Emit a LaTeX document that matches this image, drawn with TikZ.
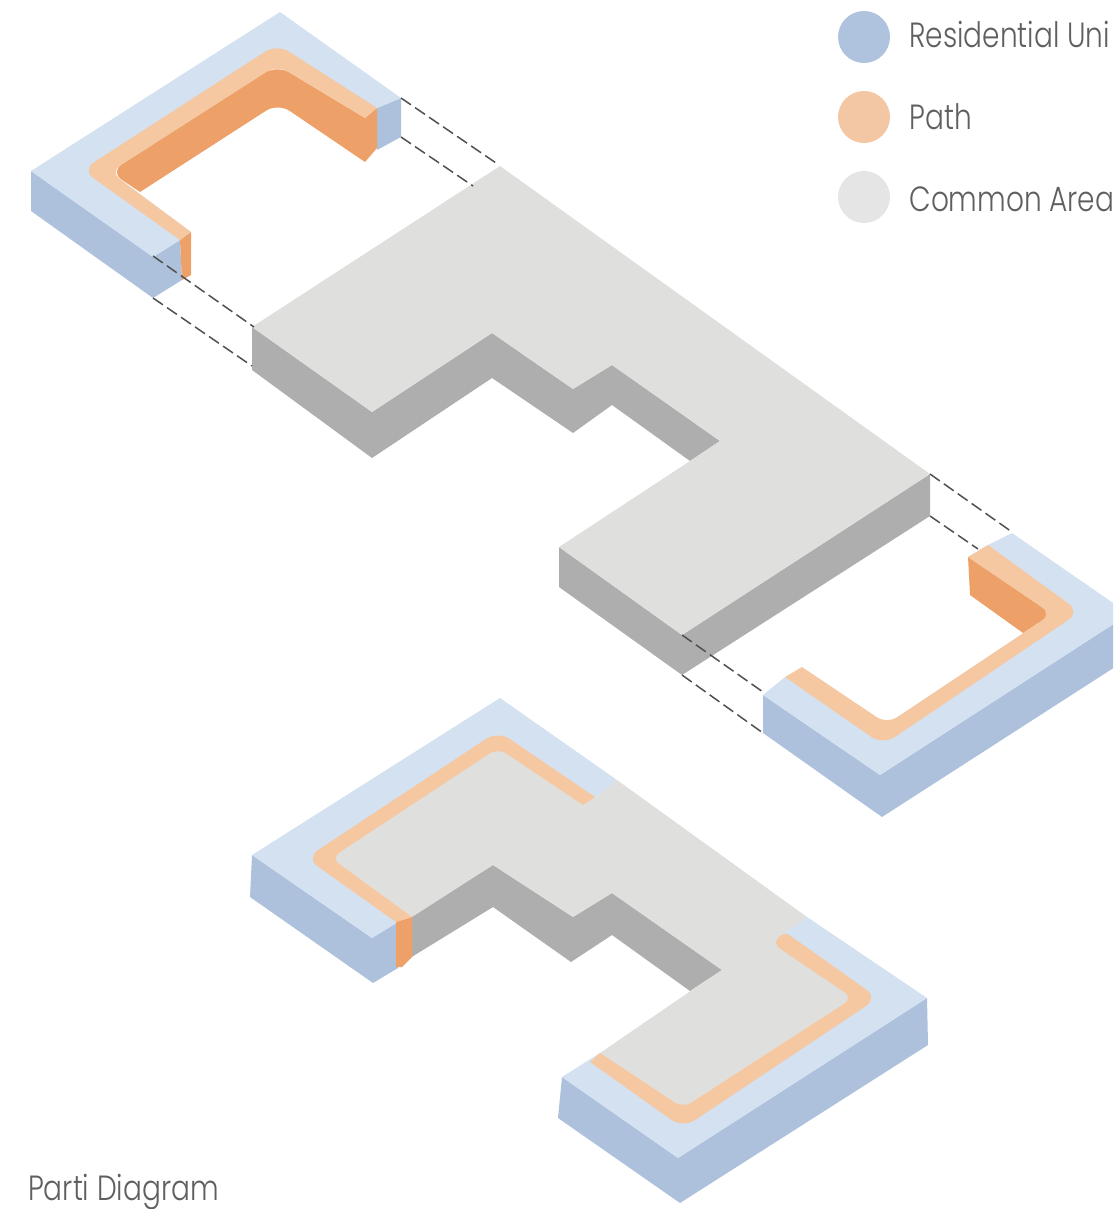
\documentclass[tikz,border=0pt]{standalone}
\usepackage{fontspec}
\setmainfont{Poppins}[UprightFont=* Light, FakeStretch=0.8]
\usetikzlibrary{positioning}

\begin{document}
\begin{tikzpicture}[
      x=1pt, y=-1pt,
      unittop/.style={fill={rgb,255:red,211;green,225;blue,241}},
      unitside/.style={fill={rgb,255:red,173;green,193;blue,221}},
      areatop/.style={fill={rgb,255:red,223;green,224;blue,222}},
      areaside/.style={fill={rgb,255:red,174;green,174;blue,174}},
      pathtop/.style={fill={rgb,255:red,246;green,200;blue,161}},
      pathwall/.style={fill={rgb,255:red,237;green,161;blue,104}},
      guide/.style={draw={rgb,255:red,80;green,80;blue,80}, line width=1.5pt, dash pattern=on 12pt off 5pt},
      legdot/.style={circle, minimum size=52pt, inner sep=0pt},
      leglab/.style={font=\fontsize{35}{38}\selectfont, text={rgb,255:red,95;green,95;blue,95}, inner sep=0pt, anchor=west}]
      \useasboundingbox (0,0) rectangle (1113,1209);
      \clip (0,0) rectangle (1113,1209);
      % legend
      \node[legdot, fill={rgb,255:red,176;green,195;blue,222}] (dotunit) at (864,37) {};
      \node[legdot, fill={rgb,255:red,244;green,199;blue,164}] (dotpath) at (864,117) {};
      \node[legdot, fill={rgb,255:red,229;green,229;blue,229}] (dotarea) at (864,197) {};
      \node[leglab, right=19pt of dotunit, yshift=3pt] (labunit) {Residential Uni};
      \node[leglab, right=19pt of dotpath] (labpath) {Path};
      \node[leglab, right=19pt of dotarea, yshift=-2pt] (labarea) {Common Area};
      \node[leglab, anchor=base west] (labparti) at (28,1200) {Parti Diagram};

      % upper left wing
      \fill[unitside] (31,171) -- (153,257) -- (153,298) -- (31,211) -- cycle;
      \fill[unitside] (153,257) -- (180,240) -- (182,280) -- (153,298) -- cycle;
      \fill[unitside] (377,108) -- (401,98) -- (401,137) -- (377,150) -- cycle;
      \fill[unittop] (280,12) -- (401,98) -- (377,108) -- (277,65) -- (110,172)
        -- (191,232) -- (180,240) -- (153,257) -- (31,171) -- cycle;
      \fill[pathwall] (365,118) [rounded corners=14pt] -- (277,65) -- (110,172) [sharp corners]
        -- (140,192) [rounded corners=14pt] -- (278,103) [sharp corners] -- (365,162)
        -- (377,148) -- (377,108) -- cycle;
      \fill[pathwall] (180,240) -- (191,232) -- (191,275) -- (182,280) -- cycle;
      \fill[pathtop] (377,108) [rounded corners=14pt] -- (277,44) -- (82,170) [sharp corners]
        -- (180,240) -- (191,232) [rounded corners=12pt] -- (110,172) -- (277,65) [sharp corners]
        -- (365,118) -- cycle;

      % middle block
      \fill[areaside] (252,327) -- (372,412) -- (492,333) -- (573,389) -- (612,365) -- (720,441)
        -- (690,461) -- (612,405) -- (573,433) -- (492,378) -- (372,458) -- (252,370) -- cycle;
      \fill[areaside] (559,547) -- (682,635) -- (930,474) -- (930,516) -- (682,675) -- (559,587) -- cycle;
      \fill[areatop] (500,166) -- (930,474) -- (682,635) -- (559,547) -- (690,461) -- (720,441)
        -- (612,365) -- (573,389) -- (492,333) -- (372,412) -- (252,327) -- cycle;

      % right wing, runs past the page edge
      \fill[unitside] (763,695) -- (880,775) -- (1129,614) -- (1129,658) -- (882,817) -- (763,733) -- cycle;
      \fill[unittop] (1012,533) -- (1129,614) -- (880,775) -- (763,695) -- (785,677) -- (887,724)
        -- (1052,614) -- (968,557) -- (988,545) -- cycle;
      \fill[pathwall] (968,557) [rounded corners=10pt] -- (1052,614) [sharp corners] -- (1023,633) -- (970,595) -- cycle;
      \fill[pathtop] (785,677) [rounded corners=14pt] -- (883,745) -- (1080,612) [sharp corners]
        -- (988,545) -- (968,557) [rounded corners=12pt] -- (1052,614) -- (887,724) [sharp corners]
        -- (802,667) -- cycle;

      % guides from the wings to the block
      \coordinate (gA1) at (401,98);   \coordinate (gA2) at (499,165);
      \coordinate (gB1) at (401,137);  \coordinate (gB2) at (473,186);
      \coordinate (gC1) at (153,256);  \coordinate (gC2) at (254,327);
      \coordinate (gD1) at (153,298);  \coordinate (gD2) at (252,366);
      \coordinate (gE1) at (930,474);  \coordinate (gE2) at (1012,532);
      \coordinate (gF1) at (930,516);  \coordinate (gF2) at (978,549);
      \coordinate (gG1) at (682,635);  \coordinate (gG2) at (763,692);
      \coordinate (gH1) at (682,675);  \coordinate (gH2) at (763,733);
      \draw[guide] (gA1) -- (gA2);
      \draw[guide] (gB1) -- (gB2);
      \draw[guide] (gC1) -- (gC2);
      \draw[guide] (gD1) -- (gD2);
      \draw[guide] (gE1) -- (gE2);
      \draw[guide] (gF1) -- (gF2);
      \draw[guide] (gG1) -- (gG2);
      \draw[guide] (gH1) -- (gH2);

      % assembled block below
      \fill[unitside] (252,855) -- (372,938) -- (398,922) -- (398,968) -- (373,983) -- (250,897) -- cycle;
      \fill[unitside] (562,1077) -- (678,1158) -- (927,998) -- (928,1045) -- (680,1203) -- (558,1118) -- cycle;
      \fill[areaside] (410,917) -- (493,865) -- (573,917) -- (612,893) -- (722,970) -- (690,991)
        -- (612,935) -- (571,962) -- (493,907) -- (410,958) -- cycle;
      \fill[unittop] (500,698) -- (617,780) -- (597,797) -- (498,745) -- (325,858) -- (412,917)
        -- (398,922) -- (372,938) -- (252,855) -- cycle;
      \fill[unittop] (807,917) -- (927,998) -- (678,1158) -- (562,1077) -- (600,1053) -- (683,1115)
        -- (860,998) -- (775,940) -- cycle;
      \fill[areatop] (617,780) -- (807,917) -- (775,940) -- (860,998) -- (683,1115) -- (600,1053)
        -- (692,990) -- (722,970) -- (612,893) -- (573,917) -- (493,865) -- (412,917) -- (325,858)
        -- (498,745) -- (597,797) -- cycle;
      \fill[pathwall] (396,922) -- (412,917) -- (412,957) -- (402,967) -- (396,967) -- cycle;
      \fill[pathtop] (595,797) [rounded corners=14pt] -- (498,731) -- (306,858) [sharp corners]
        -- (396,922) -- (412,917) [rounded corners=10pt] -- (331,858) -- (498,748) [sharp corners]
        -- (583,805) -- cycle;
      \fill[pathtop] [rounded corners=5pt] (776,939) -- (785,932) [rounded corners=14pt] -- (878,998) -- (683,1128) [sharp corners]
        -- (590,1062) -- (600,1053) [rounded corners=10pt] -- (683,1108) -- (853,998) [rounded corners=5pt]
        -- (776,946) -- cycle;
    \end{tikzpicture}
\end{document}
